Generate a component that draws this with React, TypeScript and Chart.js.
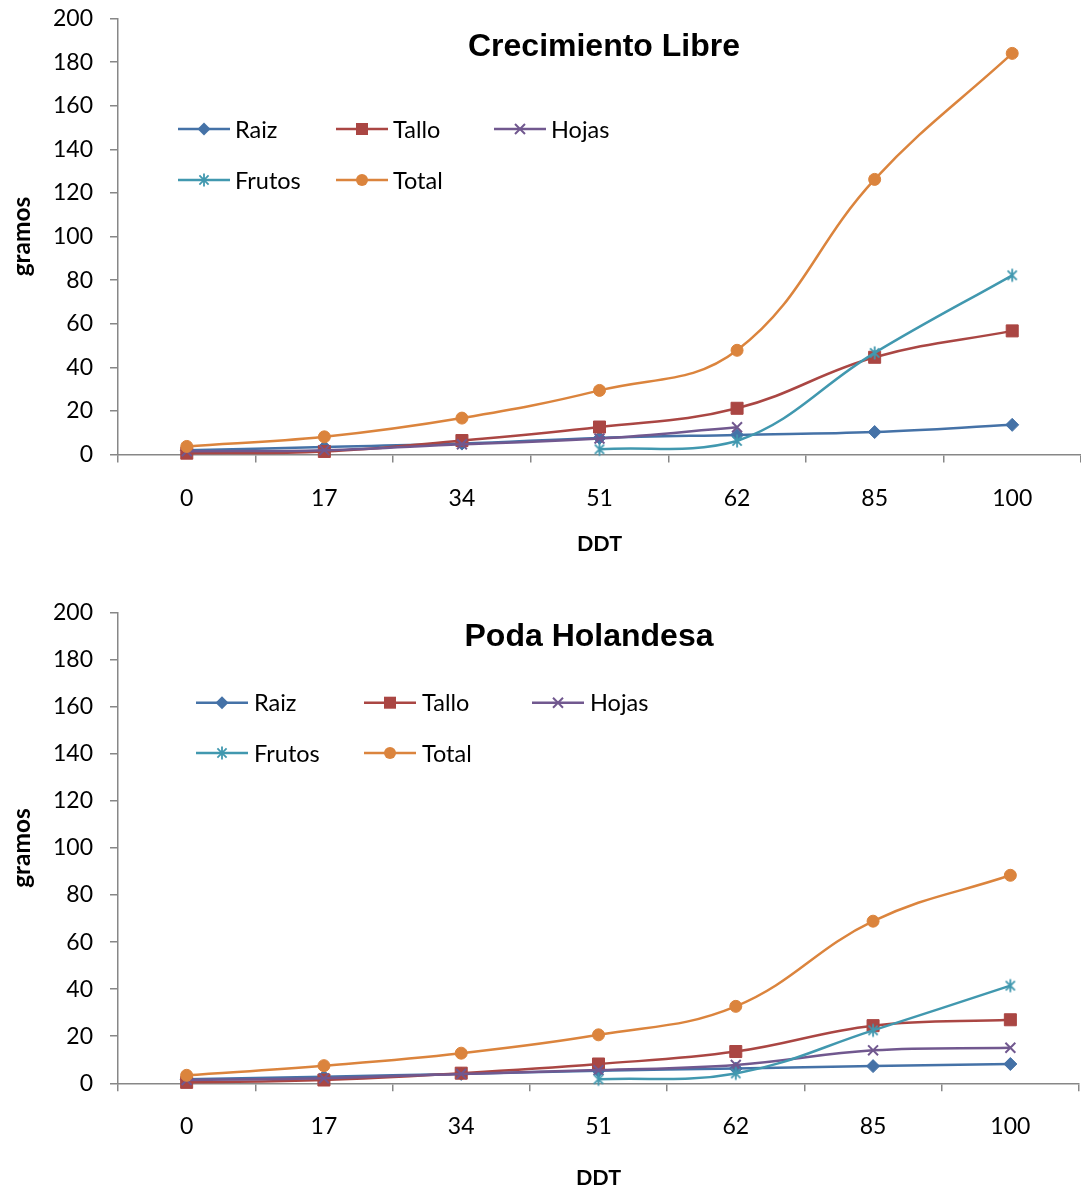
import React, { useEffect, useRef } from 'react';
import { Chart, registerables } from 'chart.js';

Chart.register(...registerables);

// ---------- data ----------
const categories = ['0', '17', '34', '51', '62', '85', '100'];
const seriesNames = ['Raiz', 'Tallo', 'Hojas', 'Frutos', 'Total'];
const yMin = 0;
const yMax = 200;
const yStep = 20;

const libreTitle = 'Crecimiento Libre';
const libreRaiz = [1.9, 3.4, 5.0, 7.6, 9.0, 10.3, 13.6];
const libreTallo = [0.6, 1.4, 6.4, 12.6, 21.2, 44.6, 56.7];
const libreHojas = [1.5, 2.0, 4.7, 7.3, 12.5, null, null];
const libreFrutos = [null, null, null, 2.4, 6.2, 46.6, 82.2];
const libreTotal = [3.7, 8.1, 16.7, 29.4, 47.8, 126.2, 184.0];

const podaTitle = 'Poda Holandesa';
const podaRaiz = [1.7, 2.8, 4.0, 5.3, 6.3, 7.3, 8.2];
const podaTallo = [0.4, 1.4, 4.3, 8.2, 13.5, 24.5, 27.0];
const podaHojas = [1.4, 2.1, 4.0, 5.6, 7.8, 14.0, 15.1];
const podaFrutos = [null, null, null, 1.7, 4.2, 22.5, 41.5];
const podaTotal = [3.4, 7.5, 12.8, 20.6, 32.7, 68.9, 88.4];

const xTitle = 'DDT';
const yTitle = 'gramos';

// ---------- styles ----------
const colors = ['#4572A7', '#AA4643', '#71588F', '#4198AF', '#DB843D'];
const markers = ['rectRot', 'rect', 'crossRot', 'asterisk', 'circle'];
const AXIS = '#878787';
const LABEL_FONT = 'Lato';
const TITLE_FONT = '"Liberation Sans", Arial, sans-serif';
const TICK_SIZE = 23;
const LEGEND_SIZE = 23.5;
const X_TITLE_SIZE = 21.5;
const Y_TITLE_SIZE = 24.5;

function makeAsterisk(color: string) {
  const c = document.createElement('canvas');
  c.width = 16;
  c.height = 16;
  const g = c.getContext('2d')!;
  g.strokeStyle = color;
  g.lineWidth = 1.8;
  g.beginPath();
  g.moveTo(8 - 4.6, 8 - 4.6);
  g.lineTo(8 + 4.6, 8 + 4.6);
  g.moveTo(8 + 4.6, 8 - 4.6);
  g.lineTo(8 - 4.6, 8 + 4.6);
  g.moveTo(8, 8 - 6.5);
  g.lineTo(8, 8 + 6.5);
  g.stroke();
  return c;
}

function drawMarker(ctx: CanvasRenderingContext2D, kind: string, x: number, y: number, color: string) {
  ctx.save();
  ctx.fillStyle = color;
  ctx.strokeStyle = color;
  ctx.beginPath();
  if (kind === 'rectRot') {
    const r = 6.5;
    ctx.moveTo(x - r, y);
    ctx.lineTo(x, y - r);
    ctx.lineTo(x + r, y);
    ctx.lineTo(x, y + r);
    ctx.closePath();
    ctx.fill();
  } else if (kind === 'rect') {
    ctx.rect(x - 6, y - 6, 12, 12);
    ctx.fill();
  } else if (kind === 'crossRot') {
    const a = 5;
    ctx.lineWidth = 2;
    ctx.moveTo(x - a, y - a);
    ctx.lineTo(x + a, y + a);
    ctx.moveTo(x + a, y - a);
    ctx.lineTo(x - a, y + a);
    ctx.stroke();
  } else if (kind === 'asterisk') {
    const a = 4.6;
    ctx.lineWidth = 1.8;
    ctx.moveTo(x - a, y - a);
    ctx.lineTo(x + a, y + a);
    ctx.moveTo(x + a, y - a);
    ctx.lineTo(x - a, y + a);
    ctx.moveTo(x, y - 6.5);
    ctx.lineTo(x, y + 6.5);
    ctx.stroke();
  } else {
    ctx.arc(x, y, 6, 0, Math.PI * 2);
    ctx.fill();
  }
  ctx.restore();
}

interface Layout {
  height: number;
  padTop: number;
  padRight: number;
  xAxisHeight: number;
  xTitlePadBottom: number;
  titleX: number;
  titleY: number;
  legendX: number;
  legendY: number;
  legendCol: number;
  legendRow: number;
  legendTextOffset: number;
}

const overlayPlugin = {
  id: 'overlay',
  afterDraw(chart: any) {
    const o = chart.options.plugins.overlay;
    if (!o) return;
    const ctx: CanvasRenderingContext2D = chart.ctx;
    ctx.save();
    ctx.font = `bold 32px ${TITLE_FONT}`;
    ctx.fillStyle = '#000';
    ctx.textAlign = 'center';
    ctx.textBaseline = 'middle';
    ctx.fillText(o.title, o.titleX, o.titleY);
    chart.data.datasets.forEach((ds: any, i: number) => {
      const col = i % 3;
      const row = Math.floor(i / 3);
      const x0 = o.legendX + col * o.legendCol;
      const y = o.legendY + row * o.legendRow;
      ctx.strokeStyle = ds.borderColor;
      ctx.lineWidth = 2.5;
      ctx.beginPath();
      ctx.moveTo(x0, y);
      ctx.lineTo(x0 + 52, y);
      ctx.stroke();
      drawMarker(ctx, markers[i], x0 + 26, y, ds.borderColor);
      ctx.font = `${LEGEND_SIZE}px ${LABEL_FONT}`;
      ctx.fillStyle = '#000';
      ctx.textAlign = 'left';
      ctx.textBaseline = 'middle';
      ctx.fillText(ds.label, x0 + o.legendTextOffset, y + 1);
    });
    ctx.restore();
  },
};

function buildConfig(title: string, series: (number | null)[][], L: Layout): any {
  const datasets = series.map((vals, i) => {
    const style: any = markers[i] === 'asterisk' ? makeAsterisk(colors[i]) : markers[i];
    const radius = markers[i] === 'rect' ? 8.5 : markers[i] === 'rectRot' ? 6.5 : markers[i] === 'crossRot' ? 7 : 6;
    return {
      label: seriesNames[i],
      data: vals,
      borderColor: colors[i],
      backgroundColor: colors[i],
      borderWidth: 2.5,
      pointStyle: style,
      pointRadius: radius,
      pointBorderWidth: markers[i] === 'crossRot' ? 2 : 1,
      pointBorderColor: colors[i],
      pointBackgroundColor: colors[i],
      tension: 0.4,
      fill: false,
      spanGaps: false,
      clip: false,
      order: series.length - 1 - i,
    };
  });
  return {
    type: 'line',
    data: { labels: categories, datasets },
    plugins: [overlayPlugin],
    options: {
      animation: false,
      responsive: false,
      events: [],
      layout: { autoPadding: false, padding: { top: L.padTop, right: L.padRight, left: 0, bottom: 0 } },
      plugins: {
        legend: { display: false },
        title: { display: false },
        tooltip: { enabled: false },
        overlay: {
          title,
          titleX: L.titleX,
          titleY: L.titleY,
          legendX: L.legendX,
          legendY: L.legendY,
          legendCol: L.legendCol,
          legendRow: L.legendRow,
          legendTextOffset: L.legendTextOffset,
        },
      },
      scales: {
        x: {
          type: 'category',
          offset: true,
          grid: {
            display: true,
            offset: true,
            drawOnChartArea: false,
            drawTicks: true,
            tickLength: 8,
            color: AXIS,
            lineWidth: 1.5,
          },
          border: { display: true, color: AXIS, width: 1.5 },
          ticks: {
            color: '#000',
            font: { family: LABEL_FONT, size: TICK_SIZE },
            padding: 21.8,
            maxRotation: 0,
            autoSkip: false,
          },
          title: {
            display: true,
            text: xTitle,
            color: '#000',
            font: { family: LABEL_FONT, size: X_TITLE_SIZE, weight: 'bold' },
            padding: { top: 0, bottom: L.xTitlePadBottom },
          },
          afterFit(scale: any) {
            scale.height = L.xAxisHeight;
            scale.paddingLeft = 0;
            scale.paddingRight = 0;
          },
        },
        y: {
          min: yMin,
          max: yMax,
          grid: {
            display: true,
            drawOnChartArea: false,
            drawTicks: true,
            tickLength: 8,
            color: AXIS,
            lineWidth: 1.5,
          },
          border: { display: true, color: AXIS, width: 1.5 },
          ticks: {
            stepSize: yStep,
            color: '#000',
            font: { family: LABEL_FONT, size: TICK_SIZE },
            padding: 17,
          },
          title: {
            display: true,
            text: yTitle,
            color: '#000',
            font: { family: LABEL_FONT, size: Y_TITLE_SIZE, weight: 'bold' },
            padding: { top: 7.3, bottom: 0 },
          },
          afterFit(scale: any) {
            scale.width = 118;
            scale.paddingTop = 0;
            scale.paddingBottom = 0;
          },
        },
      },
    },
  };
}

const libreLayout: Layout = {
  height: 580,
  padTop: 18.5,
  padRight: 0,
  xAxisHeight: 125.5,
  xTitlePadBottom: 22.6,
  titleX: 604,
  titleY: 47,
  legendX: 178,
  legendY: 129,
  legendCol: 158,
  legendRow: 51,
  legendTextOffset: 57,
};

const podaLayout: Layout = {
  height: 613,
  padTop: 32.7,
  padRight: 2,
  xAxisHeight: 109.7,
  xTitlePadBottom: 2.1,
  titleX: 589,
  titleY: 57.5,
  legendX: 196,
  legendY: 122.7,
  legendCol: 168,
  legendRow: 50.3,
  legendTextOffset: 58,
};

function LineChart({ title, series, layout }: { title: string; series: (number | null)[][]; layout: Layout }) {
  const ref = useRef<HTMLCanvasElement>(null);
  useEffect(() => {
    if (!ref.current) return;
    const chart = new Chart(ref.current, buildConfig(title, series, layout));
    return () => chart.destroy();
  }, []);
  return (
    <div style={{ width: 1081, height: layout.height, position: 'relative' }}>
      <canvas ref={ref} width={1081} height={layout.height} style={{ display: 'block', width: 1081, height: layout.height }} />
    </div>
  );
}

export default function App() {
  return (
    <div style={{ position: 'absolute', left: 0, top: 0, width: 1081, height: 1193, background: '#fff', overflow: 'hidden' }}>
      <LineChart title={libreTitle} series={[libreRaiz, libreTallo, libreHojas, libreFrutos, libreTotal]} layout={libreLayout} />
      <LineChart title={podaTitle} series={[podaRaiz, podaTallo, podaHojas, podaFrutos, podaTotal]} layout={podaLayout} />
    </div>
  );
}
